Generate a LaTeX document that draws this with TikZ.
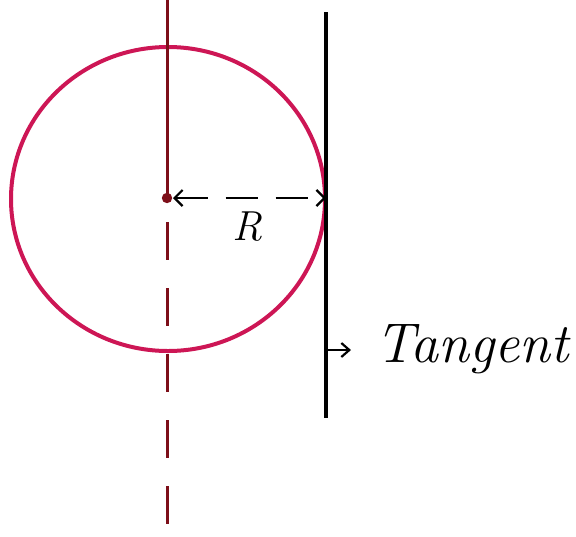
\documentclass[tikz,border=0pt]{standalone}
\usepackage{xcolor}
\usepackage{tikz}
\usetikzlibrary{arrows.meta,positioning}
\definecolor{rimred}{RGB}{205,22,85}
\definecolor{axisred}{RGB}{125,15,25}

\begin{document}
\begin{tikzpicture}[
  x=0.5pt, y=-0.5pt,
  rim/.style={draw=rimred, line width=2pt},
  axis/.style={draw=axisred, line width=1.5pt},
  tline/.style={draw=black, line width=1.8pt},
  arr/.style={-{Straight Barb[length=4pt,width=7pt]}, line width=1.1pt},
  dim/.style={{Straight Barb[length=4pt,width=8pt]}-{Straight Barb[length=4pt,width=8pt]}, line width=1.1pt, dash pattern=on 16pt off 9pt},
  lbl/.style={font=\fontsize{28}{32}\selectfont\itshape, inner sep=0pt}
]
\useasboundingbox (0,0) rectangle (576,536);

\coordinate (O) at (167,198);
\coordinate (P) at (326,198);
\coordinate (axtop) at (167,0);
\coordinate (axbot) at (167,536);
\coordinate (Ttop) at (326,12);
\coordinate (Tbot) at (326,418);
\coordinate (tp) at (326,350);

% circle
\draw[rim] (168,199) ellipse [x radius=157, y radius=152];

% axis through the centre
\draw[axis] (axtop) -- (O);
\draw[axis, dash pattern=on 19pt off 14pt, dash phase=21pt] (O) -- (axbot);
\fill[axisred] (O) circle (2.6pt);

% tangent
\draw[tline] (Ttop) -- (Tbot);

% radius
\draw[dim, shorten <=3pt] (O) -- (P);
\node[font=\fontsize{21}{24}\selectfont\itshape] (rlab) at (247,227) {R};

\node[lbl, anchor=base west] (tanlab) at (375,362) {Tangent};
\draw[arr] (tp) -- ([xshift=-12pt]tanlab.west |- tp);

\end{tikzpicture}
\end{document}
